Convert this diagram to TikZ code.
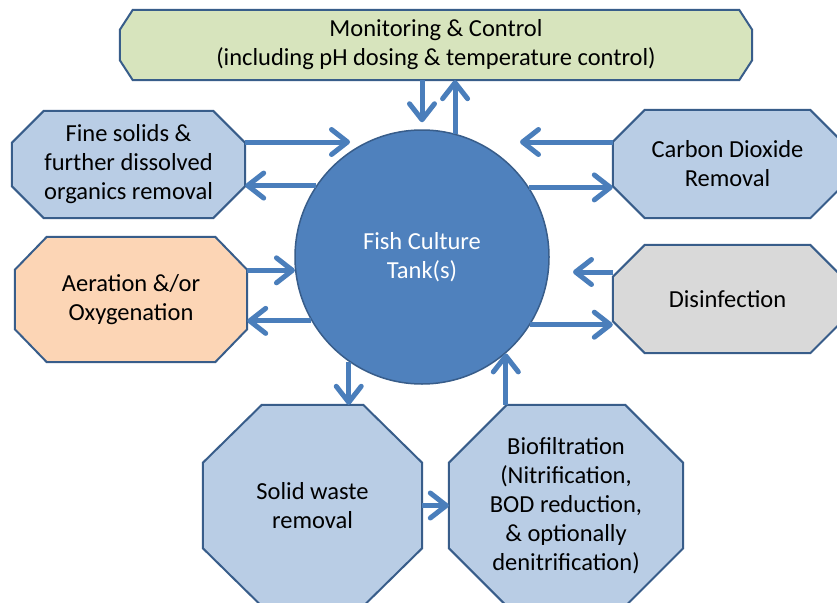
\documentclass[tikz,border=0pt]{standalone}
\usepackage{fontspec}
\setmainfont{Carlito}
\usetikzlibrary{arrows.meta,backgrounds}
\definecolor{boxblue}{HTML}{B9CDE5}
\definecolor{edgeblue}{HTML}{385D8A}
\definecolor{tankblue}{HTML}{4F81BD}
\definecolor{arrowblue}{HTML}{4A7EBB}
\definecolor{boxgreen}{HTML}{D7E4BD}
\definecolor{boxpeach}{HTML}{FCD5B5}
\definecolor{boxgrey}{HTML}{D9D9D9}
% #1 node, #2 horizontal cut, #3 vertical cut, #4 extra style
\newcommand\octpath[4]{%
  \path[octline,#4] ([xshift=#2]#1.north west) -- ([xshift=-#2]#1.north east)
    -- ([yshift=-#3]#1.north east) -- ([yshift=#3]#1.south east)
    -- ([xshift=-#2]#1.south east) -- ([xshift=#2]#1.south west)
    -- ([yshift=#3]#1.south west) -- ([yshift=-#3]#1.north west) -- cycle;}
\begin{document}
\begin{tikzpicture}[x=1pt,y=-1pt,
  lbl/.style={inner sep=0pt, align=center, font=\fontsize{24.5}{29}\selectfont, text=black},
  octline/.style={draw=edgeblue, line width=2pt, line join=miter},
  arr/.style={draw=arrowblue, line width=5pt, -{Straight Barb[length=16pt,width=25pt,round]}},
]
\useasboundingbox (0,0) rectangle (837,602);
\node[lbl, minimum width=632pt, minimum height=70pt] (mon) at (436,45) {Monitoring \& Control\\(including pH dosing \& temperature control)};
\node[lbl, minimum width=233pt, minimum height=107pt] (fine) at (128.5,164.5) {Fine solids \&\\further dissolved\\organics removal};
\node[lbl, minimum width=232pt, minimum height=125pt] (aer) at (131,299.5) {Aeration \&/or\\Oxygenation};
\node[lbl, minimum width=229pt, minimum height=108pt] (co2) at (727.5,164) {Carbon Dioxide\\Removal};
\node[lbl, minimum width=229pt, minimum height=108pt] (dis) at (727.5,299) {Disinfection};
\node[lbl, minimum width=219pt, minimum height=201pt] (solid) at (312.5,505.5) {Solid waste\\removal};
\node[lbl, minimum width=234pt, minimum height=201pt] (bio) at (566,505.5) {Biofiltration\\(Nitrification,\\BOD reduction,\\\& optionally\\denitrification)};
\node[circle, fill=tankblue, draw=edgeblue, line width=1.5pt, minimum size=254pt, inner sep=0pt,
  align=center, font=\fontsize{24.5}{29}\selectfont, text=white] (tank) at (422,257) {Fish Culture\\Tank(s)};

\coordinate (fineTip) at (350,142);
\coordinate (co2Tip) at (520,142);
\coordinate (disTip) at (573,272);
\draw[arr] (fine.east |- fineTip) -- (fineTip);
\draw[arr] (tank.146) -- (tank.146 -| fine.east);
\draw[arr] (aer.east |- tank.186) -- (tank.186);
\draw[arr] (tank.210) -- (tank.210 -| aer.east);
\draw[arr] (co2.west |- co2Tip) -- (co2Tip);
\draw[arr] (tank.33) -- (tank.33 -| co2.west);
\draw[arr] (dis.west |- disTip) -- (disTip);
\draw[arr] (tank.328) -- (tank.328 -| dis.west);
\draw[arr] (tank.north |- mon.south) -- ([yshift=7pt]tank.north);
\draw[arr] (tank.75) -- (tank.75 |- mon.south);
\draw[arr] (tank.235.5) -- (tank.235.5 |- solid.north);
\draw[arr] (bio.north -| tank.311) -- (tank.311);
\draw[arr] (solid.east) -- (bio.west);

\begin{pgfonlayer}{background}
\fill[white] (0,0) rectangle (837,602);
\octpath{mon}{13pt}{20pt}{fill=boxgreen}
\octpath{fine}{32pt}{32pt}{fill=boxblue}
\octpath{aer}{32pt}{33pt}{fill=boxpeach}
\octpath{co2}{32pt}{32pt}{fill=boxblue}
\octpath{dis}{32pt}{32pt}{fill=boxgrey}
\octpath{solid}{59pt}{58pt}{fill=boxblue}
\octpath{bio}{58pt}{58pt}{fill=boxblue}
\end{pgfonlayer}
\end{tikzpicture}
\end{document}
